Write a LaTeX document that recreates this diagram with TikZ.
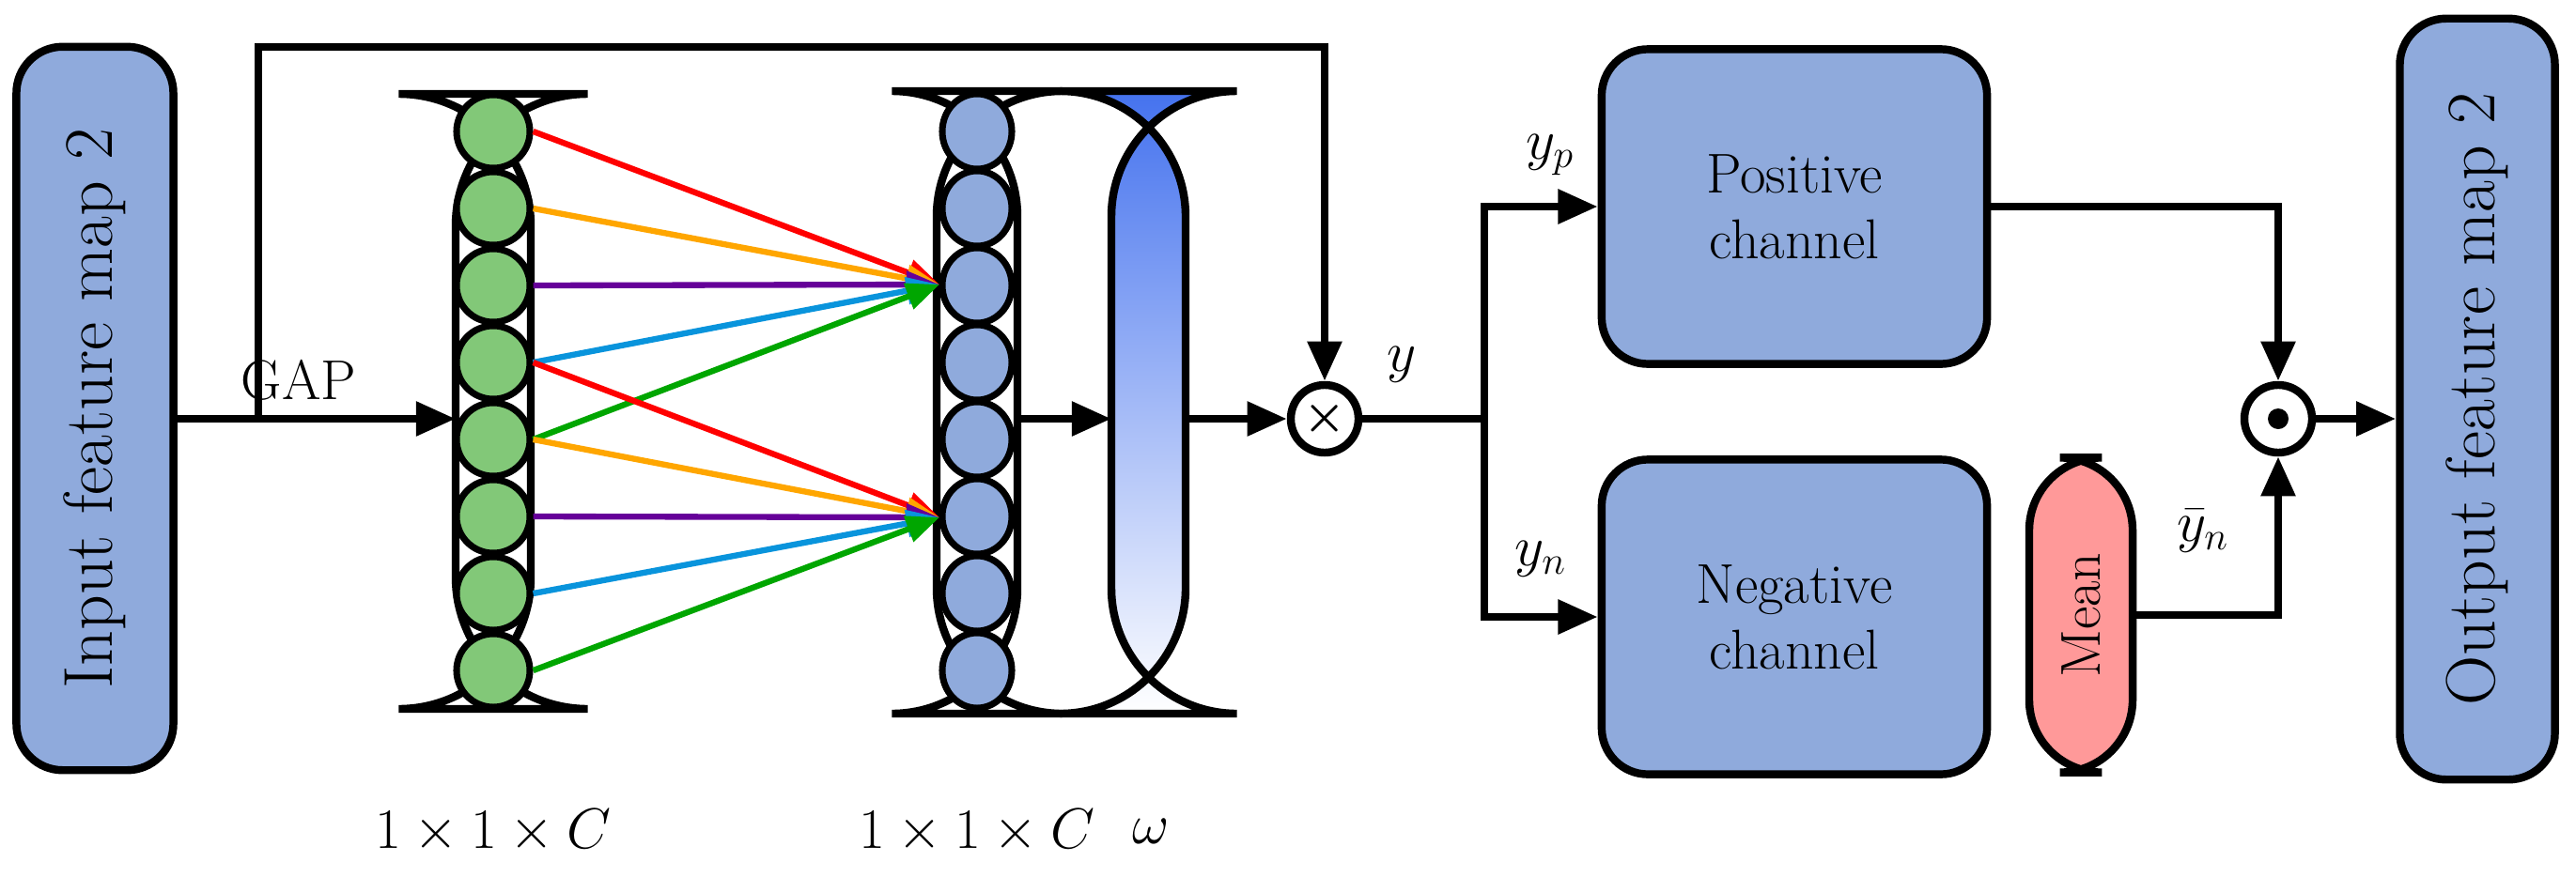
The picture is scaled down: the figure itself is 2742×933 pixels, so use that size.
\documentclass[tikz,border=0pt]{standalone}
\usepackage{amsmath}
\usetikzlibrary{arrows.meta,calc}
\begin{document}
\begin{tikzpicture}[x=0.01cm,y=-0.01cm,
  lw/.style={line width=2.4pt},
  arr/.style={lw,-{Triangle[length=12pt,width=10pt]}},
  box/.style={draw,line width=2.4pt,rounded corners=14pt,fill=bluebox},
  gc/.style={circle,draw,line width=2pt,fill=greenc,minimum size=0.78cm,inner sep=0},
  bc/.style={ellipse,draw,line width=2pt,fill=bluebox,minimum width=0.74cm,minimum height=0.8cm,inner sep=0},
  op/.style={circle,draw,line width=2.4pt,fill=white,minimum size=0.72cm,inner sep=0},
  cl/.style={line width=1.8pt,-{Triangle[length=10pt,width=8pt]}},
  lab/.style={font=\fontsize{17}{20}\selectfont}]
\definecolor{bluebox}{RGB}{143,170,220}
\definecolor{greenc}{RGB}{130,200,120}
\definecolor{pinkc}{RGB}{255,153,153}
\useasboundingbox (0,0) rectangle (2742,933);
\usetikzlibrary{shapes.geometric}
% input/output
\node[box,minimum width=1.67cm,minimum height=7.7cm] (in) at (101,435) {};
\node[rotate=90,font=\fontsize{21}{24}\selectfont] at (in.center) {Input feature map 2};
\node[box,minimum width=1.65cm,minimum height=8.1cm] (out) at (2637,425) {};
\node[rotate=90,font=\fontsize{21}{24}\selectfont] at (out.center) {Output feature map 2};
% green column
\draw[line width=2.4pt,rounded corners=40pt,fill=white] (485,100) rectangle (565,755);
\foreach \i in {1,...,8} \node[gc] (g\i) at (525,{140+82*(\i-1)}) {};
% blue column
\draw[line width=2.4pt,rounded corners=38pt,fill=white] (997,97) rectangle (1083,760);
\foreach \i in {1,...,8} \node[bc] (b\i) at (1040,{140+82*(\i-1)}) {};
% gradient bar
\shade[top color=blue!60!cyan!40!bluebox!80!blue,bottom color=white,rounded corners=38pt] (1183,97) rectangle (1262,760);
\draw[line width=2.4pt,rounded corners=38pt] (1183,97) rectangle (1262,760);
\coordinate (bar) at (1183,446);
\coordinate (barr) at (1262,446);
% colored lines
\coordinate (t1) at (1000,303);
\coordinate (t2) at (1000,551);
\foreach \s/\t/\c in {g1/t1/red,g2/t1/orange!70!yellow,g3/t1/violet!80!blue,g4/t1/cyan!80!blue,g5/t1/green!65!black,
  g4/t2/red,g5/t2/orange!70!yellow,g6/t2/violet!80!blue,g7/t2/cyan!80!blue,g8/t2/green!65!black}
  \draw[cl,draw=\c,fill=\c] (\s.east) -- (\t);
% ops
\node[op] (x) at (1410,446) {\Large$\boldsymbol{\times}$};
\node[op] (d) at (2425,446) {};
\fill (d.center) circle (11);
% main flow
\coordinate (s) at (275,446);
\coordinate (gl) at (485,446);
\draw[lw] (in.east |- s) -- (s);
\draw[arr] (s) -- (gl);
\node[lab] at (318,405) {GAP};
\draw[lw,-{Triangle[length=12pt,width=10pt]}] (s) |- (810,50) coordinate (tp) -| (x.north);
\coordinate (bcr) at (1083,446);
\draw[arr] (bcr) -- (bar);
\draw[arr] (barr) -- (x.west);
\node[lab] at (1492,388) {$y$};
% right part
\node[box,minimum width=4.1cm,minimum height=3.35cm] (pos) at (1910,220) {};
\node[font=\fontsize{17}{20}\selectfont,align=center] at (pos.center) {Positive\\channel};
\node[box,minimum width=4.1cm,minimum height=3.35cm] (neg) at (1910,657) {};
\node[font=\fontsize{17}{20}\selectfont,align=center] at (neg.center) {Negative\\channel};
\node[draw,line width=2.4pt,rounded corners=22pt,fill=pinkc,minimum width=1.1cm,minimum height=3.35cm] (mean) at (2215,655) {};
\node[rotate=90,font=\fontsize{17}{20}\selectfont] at (mean.center) {Mean};
\coordinate (sp) at (1580,446);
\draw[lw] (x.east) -- (sp);
\draw[arr] (sp) |- (pos.west);
\draw[arr] (sp) |- (neg.west);
\node[lab] at (1650,165) {$y_p$};
\node[lab] at (1640,595) {$y_n$};
\draw[arr] (pos.east) -| (d.north);
\draw[arr] (mean.east) -| (d.south);
\node[lab] at (2345,565) {$\bar{y}_n$};
\draw[arr] (d.east) -- (out.west |- d);
% bottom labels
\node[lab] at (525,885) {$1\times1\times C$};
\node[lab] at (1040,885) {$1\times1\times C$};
\node[lab] at (1225,885) {$\omega$};
\end{tikzpicture}
\end{document}
